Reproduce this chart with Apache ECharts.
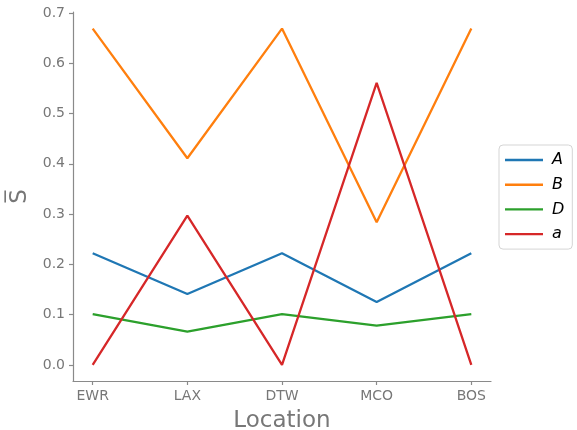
<!DOCTYPE html>
<html>
<head>
<meta charset="utf-8">
<script src="https://cdn.jsdelivr.net/npm/echarts@6/dist/echarts.min.js"></script>
<style>
  html, body { margin: 0; padding: 0; background: #fff; }
  #chart { width: 577px; height: 430px; }
</style>
</head>
<body>
<div id="chart"></div>
<script>
// Airport locations on the x axis
const locations = ['EWR', 'LAX', 'DTW', 'MCO', 'BOS'];

// Mean S per location for each series
const seriesA = [0.222, 0.141, 0.222, 0.125, 0.222];
const seriesB = [0.669, 0.411, 0.669, 0.284, 0.669];
const seriesD = [0.101, 0.066, 0.101, 0.078, 0.101];
const seriesSmallA = [0.0, 0.297, 0.0, 0.561, 0.0];

const seriesNames = ['A', 'B', 'D', 'a'];
const yTicks = [0.0, 0.1, 0.2, 0.3, 0.4, 0.5, 0.6, 0.7];

const colors = ['#1f77b4', '#ff7f0e', '#2ca02c', '#d62728'];
const axisGray = '#8a8a8a';
const textGray = '#777777';

const chart = echarts.init(document.getElementById('chart'), null, { renderer: 'canvas' });

function toPoints(values) {
  return values.map((v, i) => [i, v]);
}

const allValues = [seriesA, seriesB, seriesD, seriesSmallA];

chart.setOption({
  animation: false,
  backgroundColor: '#ffffff',
  color: colors,
  grid: { left: 73, right: 86, top: 12, bottom: 49, containLabel: false, outerBoundsMode: 'none' },
  xAxis: {
    type: 'value',
    min: -0.208,
    max: 4.208,
    name: 'Location',
    nameLocation: 'middle',
    nameGap: 29,
    nameTextStyle: { color: textGray, fontSize: 23, fontFamily: 'DejaVu Sans' },
    splitLine: { show: false },
    axisLine: { show: true, onZero: false, lineStyle: { color: axisGray, width: 1.2 } },
    axisTick: { show: true, length: 4, customValues: [0, 1, 2, 3, 4], lineStyle: { color: axisGray, width: 1.2 } },
    axisLabel: {
      customValues: [0, 1, 2, 3, 4],
      formatter: v => locations[Math.round(v)] || '',
      color: textGray, fontSize: 14, fontFamily: 'DejaVu Sans', margin: 8
    }
  },
  yAxis: {
    type: 'value',
    min: -0.032,
    max: 0.702,
    name: 'S\u0305',
    nameLocation: 'middle',
    nameRotate: 90,
    nameGap: 39,
    nameTextStyle: { color: textGray, fontSize: 23, fontFamily: 'DejaVu Sans' },
    splitLine: { show: false },
    axisLine: { show: true, onZero: false, lineStyle: { color: axisGray, width: 1.2 } },
    axisTick: { show: true, length: 4, customValues: yTicks, lineStyle: { color: axisGray, width: 1.2 } },
    axisLabel: {
      customValues: yTicks,
      formatter: v => v.toFixed(1),
      color: textGray, fontSize: 14, fontFamily: 'DejaVu Sans', margin: 8
    }
  },
  legend: {
    orient: 'vertical',
    left: 499,
    top: 145,
    padding: [6, 8, 6, 6],
    icon: 'path://M0,0 L38,0 L38,2.4 L0,2.4 Z',
    itemWidth: 38,
    itemHeight: 2.4,
    itemGap: 6.7,
    backgroundColor: '#ffffff',
    borderColor: '#d5d5d5',
    borderWidth: 1,
    borderRadius: 4,
    textStyle: { fontSize: 16, lineHeight: 18, fontStyle: 'italic', fontFamily: 'DejaVu Sans', color: '#000', padding: [0, 0, 0, 4] },
    data: seriesNames
  },
  series: seriesNames.map((name, k) => ({
    name: name,
    type: 'line',
    data: toPoints(allValues[k]),
    symbol: 'none',
    lineStyle: { width: 2.3, color: colors[k] },
    itemStyle: { color: colors[k] }
  }))
});
</script>
</body>
</html>
